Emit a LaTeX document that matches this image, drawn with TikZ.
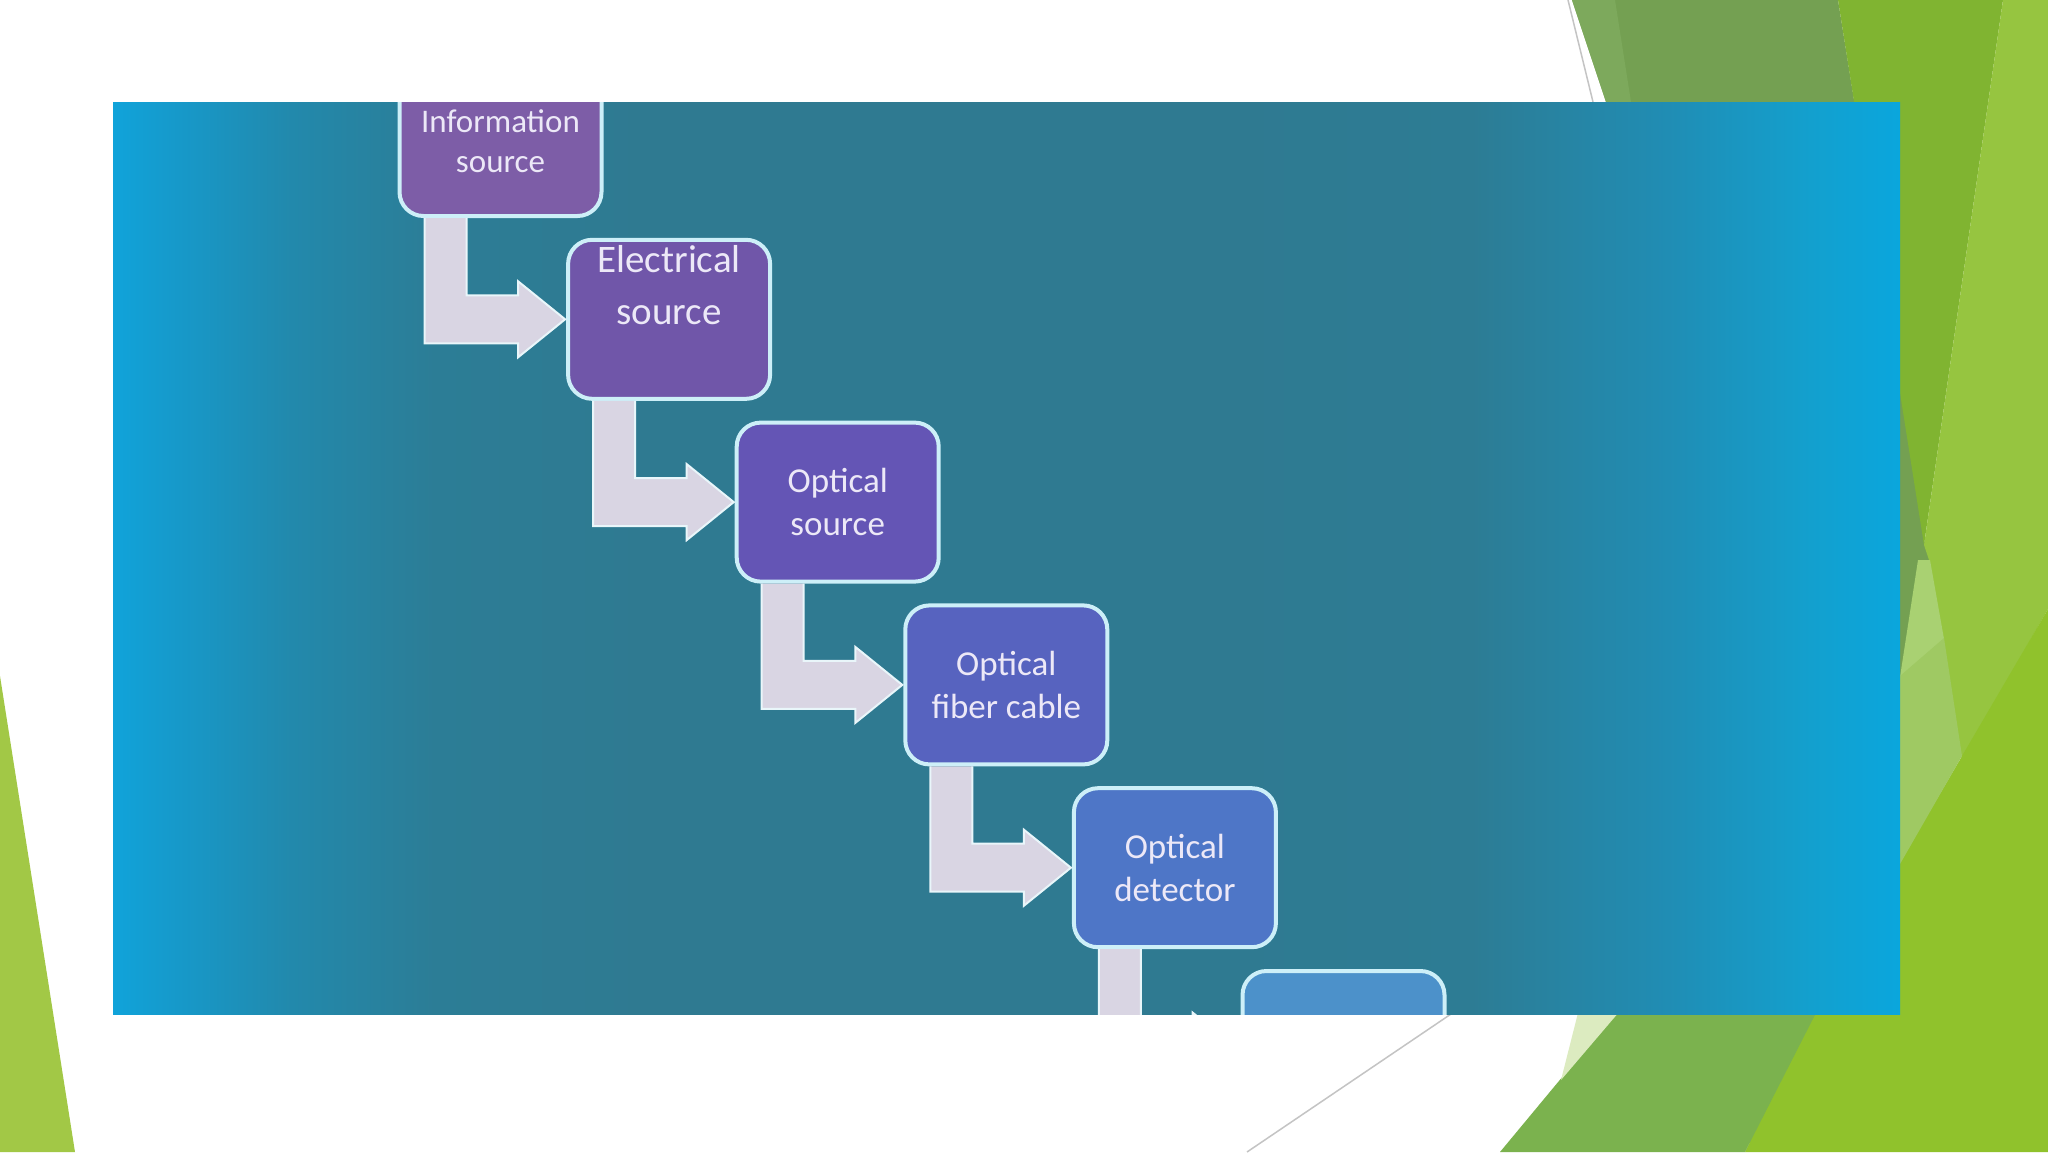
\documentclass[tikz,border=0pt]{standalone}
\usepackage{fontspec}
\setmainfont{Carlito}
\usetikzlibrary{calc}
\definecolor{bg0}{HTML}{10A3DA}
\definecolor{bg1}{HTML}{1798C8}
\definecolor{bg2}{HTML}{2289AC}
\definecolor{bg3}{HTML}{2C7D96}
\definecolor{bg4}{HTML}{2F7A91}
\definecolor{bg5}{HTML}{2F7A91}
\definecolor{bg6}{HTML}{2D7C94}
\definecolor{bg7}{HTML}{208DB4}
\definecolor{bg8}{HTML}{13A0CE}
\definecolor{bg9}{HTML}{0AA6DD}
\definecolor{boxA}{HTML}{7D5DA7}
\definecolor{boxB}{HTML}{7056A9}
\definecolor{boxC}{HTML}{6455B5}
\definecolor{boxD}{HTML}{5763BF}
\definecolor{boxE}{HTML}{4E76C7}
\definecolor{boxF}{HTML}{4C91CA}
\definecolor{boxline}{HTML}{CDEFF8}
\definecolor{txtcol}{HTML}{ECE8F7}
\definecolor{arrowfill}{HTML}{D9D5E3}
\definecolor{arrowline}{HTML}{E9F6FA}
\definecolor{gLeft}{HTML}{A2C846}
\definecolor{gOlive}{HTML}{74A052}
\definecolor{gOliveLt}{HTML}{7DA95C}
\definecolor{gMid}{HTML}{80B431}
\definecolor{gLight}{HTML}{96C540}
\definecolor{gPaleA}{HTML}{A9D172}
\definecolor{gPaleB}{HTML}{9FC963}
\definecolor{gBright}{HTML}{90C22C}
\definecolor{gGreen}{HTML}{7BB24E}
\definecolor{gPaleC}{HTML}{DCEBC0}
\definecolor{thinline}{HTML}{C4C4C4}
\pgfdeclarehorizontalshading{bluebg}{100bp}{color(0bp)=(bg0); color(25bp)=(bg0); color(27bp)=(bg1); color(30bp)=(bg2); color(34bp)=(bg3); color(40bp)=(bg4); color(56bp)=(bg5); color(63bp)=(bg6); color(68.5bp)=(bg7); color(72.5bp)=(bg8); color(75bp)=(bg9); color(100bp)=(bg9)}
\begin{document}
\begin{tikzpicture}[x=1pt,y=-1pt,
  flowbox/.style={rounded corners=24pt, draw=boxline, line width=4pt, minimum width=202pt, minimum height=159pt, inner sep=0pt, outer sep=0pt, text=txtcol, align=center},
  boxlabel/.style={text=txtcol, align=center, inner sep=0pt},
  bigtext/.style={font=\fontsize{35}{43}\selectfont},
  thinrule/.style={draw=thinline, line width=1.5pt}]
\useasboundingbox (0,0) rectangle (2048,1152);
\fill[white] (0,0) rectangle (2048,1152);
% decorative facets
\fill[gLeft] (0,676) -- (75,1152) -- (0,1152) -- cycle;
\fill[gOlive] (1572,0) -- (1838,0) -- (1926,550) -- (1934,566) -- (1900,705) -- (1700,400) -- (1606,102) -- cycle;
\fill[gOliveLt] (1572,0) -- (1615,0) -- (1631,102) -- (1606,102) -- cycle;
\fill[gMid] (1838,0) -- (2003,0) -- (1924,545) -- cycle;
\fill[gLight] (2003,0) -- (2048,0) -- (2048,609) -- (1962,760) -- (1929,560) -- (1924,545) -- cycle;
\fill[gBright] (2048,609) -- (2048,1152) -- (1745,1152) -- (1816,1005) -- (1900,862) -- (1962,756) -- cycle;
\fill[gPaleA] (1918,560) -- (1930,560) -- (1944,639) -- (1900,677) -- cycle;
\fill[gPaleB] (1900,676) -- (1944,638) -- (1962,756) -- (1900,864) -- cycle;
\fill[gGreen] (1622,1005) -- (1820,1005) -- (1745,1152) -- (1500,1152) -- cycle;
\fill[gPaleC] (1580,1005) -- (1625,1005) -- (1561,1080) -- cycle;
\path[thinrule] (1568,0) -- (1593,102);
\path[thinrule] (1451,1014) -- (1247,1152);
% picture
\begin{scope}
\clip (113,102) rectangle (1900,1014);
\shade[shading=bluebg] (113,102) rectangle (1900,1014);
\node[flowbox, fill=boxA] (b1) at (500.5,136.5) {};
\node[boxlabel, font=\fontsize{33}{40}\selectfont] (t1) at (500.5,141) {Information\\source};
\node[flowbox, fill=boxB] (b2) at (669.1,319.3) {};
\node[boxlabel, font=\fontsize{39}{52}\selectfont] (t2) at (669.1,285) {Electrical\\source};
\node[flowbox, fill=boxC, bigtext] (b3) at (837.7,502.1) {Optical\\source};
\node[flowbox, fill=boxD, bigtext] (b4) at (1006.3,684.9) {Optical\\fiber cable};
\node[flowbox, fill=boxE, bigtext] (b5) at (1174.9,867.7) {Optical\\detector};
\node[flowbox, fill=boxF] (b6) at (1343.5,1050.5) {};
\foreach \a/\b in {b1/b2,b2/b3,b3/b4,b4/b5,b5/b6}{
  \fill[arrowfill] let \p1=(\a.west), \p2=(\b.west), \p3=(\a.south) in
    (\x1+25pt,\y3-2pt) -- (\x1+67pt,\y3-2pt) -- (\x1+67pt,\y2+24pt) -- (\x2-50pt,\y2+24pt) -- (\x2-50pt,\y2+38pt) -- (\x2-3pt,\y2) -- (\x2-50pt,\y2-38pt) -- (\x2-50pt,\y2-24pt) -- (\x1+25pt,\y2-24pt) -- cycle;
  \draw[arrowline, line width=2pt, line join=miter] let \p1=(\a.west), \p2=(\b.west), \p3=(\a.south) in
    (\x1+67pt,\y3-2pt) -- (\x1+67pt,\y2+24pt) -- (\x2-50pt,\y2+24pt) -- (\x2-50pt,\y2+38pt) -- (\x2-3pt,\y2) -- (\x2-50pt,\y2-38pt) -- (\x2-50pt,\y2-24pt) -- (\x1+25pt,\y2-24pt) -- (\x1+25pt,\y3-2pt);
}
\end{scope}
\end{tikzpicture}
\end{document}
